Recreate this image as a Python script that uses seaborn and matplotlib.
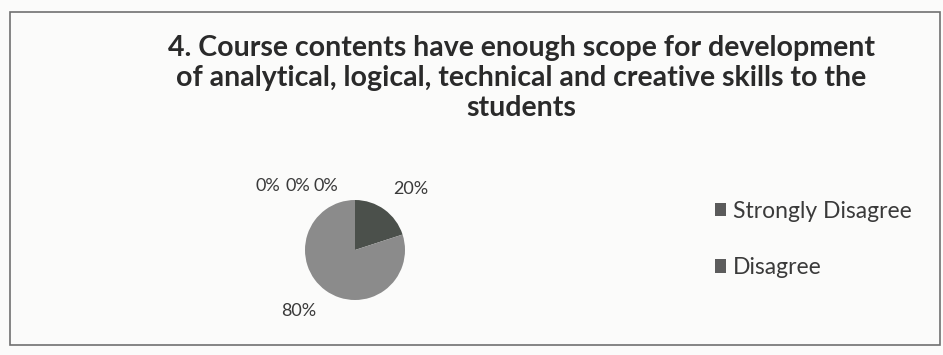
import numpy as np
import matplotlib
matplotlib.use("Agg")
import matplotlib.pyplot as plt
from matplotlib.patches import Rectangle, Patch
import seaborn as sns

# ── Data ──
categories = ["Strongly Disagree", "Disagree", "Neutral", "Agree", "Strongly Agree"]
values = [0, 0, 0, 20, 80]
slice_colors = ["#5a5a5a", "#5c5c5c", "#6a6a6a", "#4b504b", "#8b8b8b"]
legend_shown = categories[:2]
title = ("4. Course contents have enough scope for development\n"
         "of analytical, logical, technical and creative skills to the\n"
         "students")

sns.set_theme(style="white")
plt.rcParams['font.family'] = ['Lato', 'DejaVu Sans']

fig = plt.figure(figsize=(9.43, 3.55), dpi=100)
fig.patch.set_facecolor("#fbfbfa")

# chart border
fig.add_artist(Rectangle((10 / 943, 10 / 355), 930 / 943, 333 / 355,
                         transform=fig.transFigure, fill=False,
                         edgecolor="#707070", linewidth=1.2))

fig.text(521 / 943, 1 - 35 / 355, title, ha="center", va="top",
         fontsize=20.5, fontweight="bold", color="#2a2a2a", linespacing=1.2)

# ── Pie ──
size = 240
cx, cy = 355, 250
ax = fig.add_axes([(cx - size / 2) / 943, (355 - cy - size / 2) / 355,
                   size / 943, size / 355])

wedges, _ = ax.pie(values, colors=slice_colors, startangle=90,
                   counterclock=False, radius=1.0,
                   wedgeprops=dict(linewidth=0))
ax.set_xlim(-2.4, 2.4)
ax.set_ylim(-2.4, 2.4)
ax.set_aspect("equal")
ax.axis("off")

# percentage labels (Excel pushes the empty slices to the left)
zero_offsets = iter([(-1.74, 1.28), (-1.14, 1.28), (-0.58, 1.28)])
total = sum(values)
for w, v in zip(wedges, values):
    pct = f"{round(100 * v / total)}%"
    if v == 0:
        x, y = next(zero_offsets)
    else:
        ang = np.deg2rad((w.theta1 + w.theta2) / 2)
        x, y = 1.9 * np.cos(ang), 1.5 * np.sin(ang)
    ax.text(x, y, pct, ha="center", va="center", fontsize=13,
            color="#3a3a3a")

# ── Legend (only first entries fit) ──
handles = [Patch(facecolor=slice_colors[i], edgecolor="none")
           for i in range(len(legend_shown))]
fig.legend(handles, legend_shown, loc="upper left",
           bbox_to_anchor=(694 / 943, 1 - 180 / 355), frameon=False,
           fontsize=16.5, handlelength=0.5, handleheight=0.5,
           handletextpad=0.3, labelspacing=1.55, labelcolor="#3a3a3a")

fig.savefig("out.png", dpi=100, facecolor=fig.get_facecolor())
